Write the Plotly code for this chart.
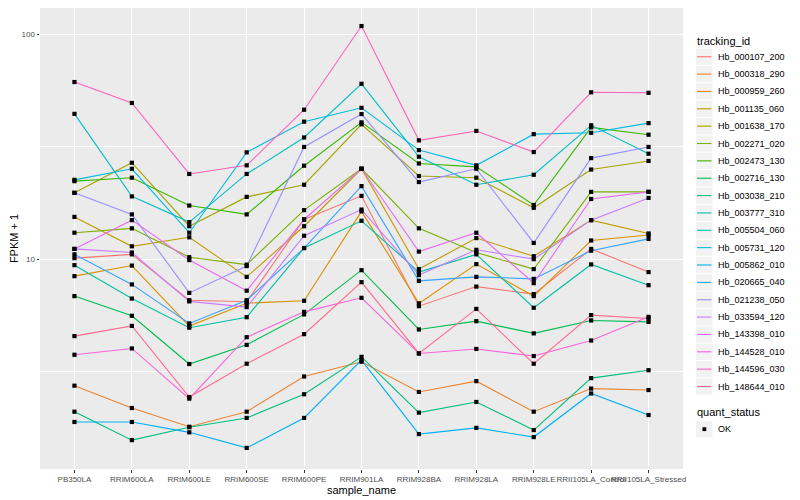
import plotly.graph_objects as go

samples = ["PB350LA", "RRIM600LA", "RRIM600LE", "RRIM600SE", "RRIM600PE", "RRIM901LA",
           "RRIM928BA", "RRIM928LA", "RRIM928LE", "RRII105LA_Control", "RRII105LA_Stressed"]

tracking_ids = ["Hb_000107_200", "Hb_000318_290", "Hb_000959_260", "Hb_001135_060", "Hb_001638_170",
                "Hb_002271_020", "Hb_002473_130", "Hb_002716_130", "Hb_003038_210", "Hb_003777_310",
                "Hb_005504_060", "Hb_005731_120", "Hb_005862_010", "Hb_020665_040", "Hb_021238_050",
                "Hb_033594_120", "Hb_143398_010", "Hb_144528_010", "Hb_144596_030", "Hb_148644_010"]

colors = ["#F8766D", "#EA8331", "#D89000", "#C09B00", "#A3A500", "#7CAE00", "#39B600", "#00BB4E",
          "#00BF7D", "#00C1A3", "#00BFC4", "#00BAE0", "#00B0F6", "#35A2FF", "#9590FF", "#C77CFF",
          "#E76BF3", "#FA62DB", "#FF62BC", "#FF6C91"]

# FPKM + 1 values per gene, in sample order
Hb_000107_200 = [10.1, 10.5, 6.57, 6.47, 15.0, 19.1, 6.18, 7.55, 6.99, 11.1, 8.76]
Hb_000318_290 = [2.74, 2.18, 1.80, 2.10, 3.01, 3.50, 2.57, 2.87, 2.10, 2.66, 2.62]
Hb_000959_260 = [8.40, 9.36, 5.04, 6.37, 6.53, 16.3, 6.36, 9.50, 6.85, 12.1, 12.8]
Hb_001135_060 = [15.4, 11.4, 12.5, 8.34, 14.0, 25.2, 9.03, 12.4, 10.3, 14.9, 13.0]
Hb_001638_170 = [19.7, 26.8, 14.0, 18.9, 21.4, 39.7, 23.4, 23.0, 16.9, 25.0, 27.3]
Hb_002271_020 = [13.1, 13.7, 10.2, 9.45, 16.5, 25.2, 13.7, 10.7, 9.03, 19.9, 19.9]
Hb_002473_130 = [22.2, 23.0, 17.3, 15.8, 26.0, 40.5, 26.6, 25.7, 17.4, 38.5, 35.7]
Hb_002716_130 = [6.85, 5.60, 3.42, 4.16, 5.68, 8.93, 4.87, 5.30, 4.68, 5.34, 5.26]
Hb_003038_210 = [2.10, 1.57, 1.79, 1.97, 2.51, 3.68, 2.08, 2.32, 1.74, 2.96, 3.21]
Hb_003777_310 = [9.40, 6.68, 4.96, 5.52, 11.2, 14.8, 8.76, 10.5, 6.08, 9.47, 7.66]
Hb_005504_060 = [44.2, 19.0, 14.6, 23.9, 34.7, 60.1, 28.5, 21.4, 23.7, 39.3, 29.4]
Hb_005731_120 = [22.5, 25.2, 13.1, 29.8, 40.8, 47.0, 30.5, 26.1, 35.9, 36.4, 40.2]
Hb_005862_010 = [1.89, 1.89, 1.70, 1.45, 1.97, 3.56, 1.67, 1.78, 1.62, 2.53, 2.03]
Hb_020665_040 = [10.5, 7.72, 5.18, 6.57, 11.2, 21.1, 8.01, 8.34, 8.17, 10.9, 12.3]
Hb_021238_050 = [19.7, 15.8, 7.08, 9.31, 31.5, 44.1, 22.0, 25.2, 11.8, 28.1, 31.5]
Hb_033594_120 = [11.1, 10.7, 6.49, 6.12, 12.7, 16.6, 8.49, 11.0, 10.0, 14.9, 18.7]
Hb_143398_010 = [11.1, 14.9, 9.90, 7.24, 15.0, 25.2, 10.8, 13.1, 7.82, 18.5, 19.9]
Hb_144528_010 = [3.76, 4.01, 2.40, 4.50, 5.83, 6.73, 3.81, 3.99, 3.71, 4.35, 5.54]
Hb_144596_030 = [61.2, 49.4, 23.9, 26.1, 46.1, 108.5, 33.7, 37.1, 29.9, 55.1, 54.8]
Hb_148644_010 = [4.55, 5.05, 2.44, 3.43, 4.64, 7.90, 3.81, 6.01, 3.43, 5.64, 5.45]

series = [Hb_000107_200, Hb_000318_290, Hb_000959_260, Hb_001135_060, Hb_001638_170,
          Hb_002271_020, Hb_002473_130, Hb_002716_130, Hb_003038_210, Hb_003777_310,
          Hb_005504_060, Hb_005731_120, Hb_005862_010, Hb_020665_040, Hb_021238_050,
          Hb_033594_120, Hb_143398_010, Hb_144528_010, Hb_144596_030, Hb_148644_010]

quant_status = ["OK"]

FONT = "Liberation Sans, Arial, sans-serif"
OFF = 8.0                      # page body margin of the html page
W, H = 800 - OFF, 500 - OFF
PL, PR, PT, PB = 40.0 - OFF, 683.5 - OFF, 0.0, 468.8 - OFF   # panel edges (figure px)


def px(x_page):
    return (x_page - OFF - PL) / (PR - PL)


def py(y_page):
    return (PB - (y_page - OFF)) / (PB - PT)


fig = go.Figure()
for name, vals, col in zip(tracking_ids, series, colors):
    fig.add_trace(go.Scatter(
        x=samples, y=vals, mode="lines", name=name,
        line=dict(color=col, width=1.1), showlegend=False,
    ))

all_x = [s for _ in series for s in samples]
all_y = [v for vals in series for v in vals]
fig.add_trace(go.Scatter(
    x=all_x, y=all_y, mode="markers", name=quant_status[0],
    marker=dict(symbol="square", size=4.2, color="black"),
    showlegend=False,
))

# ---- manual ggplot-style legends (positions in page pixels) ----
shapes = []
annotations = []
KEY_L, KEY_R = 696.5, 713.0
TEXT_X = 716.5
ROW_H = 17.35
FIRST_C = 56.7

annotations.append(dict(text="tracking_id", x=px(695.5), y=py(40.7), xref="paper", yref="paper",
                        xanchor="left", yanchor="middle", showarrow=False,
                        font=dict(size=11, family=FONT, color="black")))
for i, (name, col) in enumerate(zip(tracking_ids, colors)):
    c = FIRST_C + i * ROW_H
    shapes.append(dict(type="rect", xref="paper", yref="paper",
                       x0=px(KEY_L), x1=px(KEY_R), y0=py(c - ROW_H / 2 + 0.6), y1=py(c + ROW_H / 2 - 0.6),
                       fillcolor="#F2F2F2", line=dict(width=0)))
    shapes.append(dict(type="line", xref="paper", yref="paper",
                       x0=px(KEY_L + 1.0), x1=px(KEY_R - 1.0), y0=py(c), y1=py(c),
                       line=dict(color=col, width=1.1)))
    annotations.append(dict(text=name, x=px(TEXT_X), y=py(c), xref="paper", yref="paper",
                            xanchor="left", yanchor="middle", showarrow=False,
                            font=dict(size=9, family=FONT, color="black")))

annotations.append(dict(text="quant_status", x=px(695.5), y=py(412.3), xref="paper", yref="paper",
                        xanchor="left", yanchor="middle", showarrow=False,
                        font=dict(size=11, family=FONT, color="black")))
ok_c = 429.0
shapes.append(dict(type="rect", xref="paper", yref="paper",
                   x0=px(KEY_L), x1=px(KEY_R), y0=py(ok_c - ROW_H / 2 + 0.6), y1=py(ok_c + ROW_H / 2 - 0.6),
                   fillcolor="#F2F2F2", line=dict(width=0)))
shapes.append(dict(type="rect", xref="paper", yref="paper",
                   x0=px(703.0), x1=px(706.8), y0=py(ok_c - 1.9), y1=py(ok_c + 1.9),
                   fillcolor="black", line=dict(width=0)))
annotations.append(dict(text=quant_status[0], x=px(TEXT_X), y=py(ok_c), xref="paper", yref="paper",
                        xanchor="left", yanchor="middle", showarrow=False,
                        font=dict(size=9, family=FONT, color="black")))

fig.update_layout(
    width=W, height=H,
    margin=dict(l=PL, r=W - PR, t=PT, b=H - PB, pad=0, autoexpand=False),
    paper_bgcolor="white", plot_bgcolor="#EBEBEB",
    font=dict(family=FONT, color="black"),
    showlegend=False,
    shapes=shapes,
    annotations=annotations,
    xaxis=dict(
        type="category", categoryorder="array", categoryarray=samples,
        range=[-0.6, 10.6], showgrid=True, gridcolor="white", gridwidth=1.1,
        ticks="outside", ticklen=2.5, tickcolor="#333333", tickangle=0,
        tickfont=dict(size=8, color="#4D4D4D"),
        title=dict(text="sample_name", font=dict(size=11), standoff=0),
        zeroline=False, showline=False, automargin=False,
    ),
    yaxis=dict(
        type="log", range=[0.0676, 2.1156],
        tickvals=[10, 100], ticktext=["10", "100"],
        showgrid=True, gridcolor="white", gridwidth=1.1,
        ticks="outside", ticklen=2.5, tickcolor="#333333",
        tickfont=dict(size=8, color="#4D4D4D"),
        title=dict(text="FPKM + 1", font=dict(size=11), standoff=5),
        minor=dict(tickvals=[3.1623, 31.623], showgrid=True, gridcolor="white", gridwidth=0.55, ticks=""),
        zeroline=False, showline=False, automargin=False,
    ),
)

fig.write_html("out.html")
